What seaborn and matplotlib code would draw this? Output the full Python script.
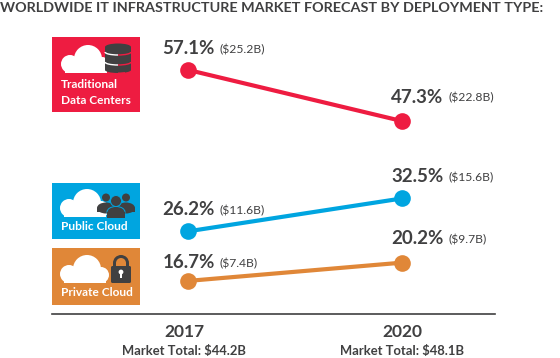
import matplotlib
matplotlib.use('Agg')
import pandas as pd
import seaborn as sns
import matplotlib.pyplot as plt
from matplotlib.patches import Rectangle, Ellipse, Circle, FancyBboxPatch, Wedge, Arc
from matplotlib.transforms import Affine2D

years = [2017, 2020]
trad_share = [57.1, 47.3]
public_share = [26.2, 32.5]
private_share = [16.7, 20.2]
trad_money = ['($25.2B)', '($22.8B)']
public_money = ['($11.6B)', '($15.6B)']
private_money = ['($7.4B)', '($9.7B)']
totals = ['Market Total: $44.2B', 'Market Total: $48.1B']
title = 'WORLDWIDE IT INFRASTRUCTURE MARKET FORECAST BY DEPLOYMENT TYPE:'

RED = '#ee1c41'
BLUE = '#00a5e0'
ORANGE = '#e08738'
DARK = '#404041'

sns.set_theme(style='white')
plt.rcParams['font.family'] = ['Lato', 'DejaVu Sans']

df = pd.DataFrame({
    'year': years * 3,
    'share': trad_share + public_share + private_share,
    'kind': ['Traditional'] * 2 + ['Public'] * 2 + ['Private'] * 2,
})

W, H = 560, 358
fig = plt.figure(figsize=(W / 100, H / 100), dpi=100)
ax = fig.add_axes([52 / W, (H - 314) / H, 443 / W, 314 / H])
sns.lineplot(data=df, x='year', y='share', hue='kind', ax=ax, legend=False,
             palette={'Traditional': RED, 'Public': BLUE, 'Private': ORANGE},
             linewidth=3, marker='o', markersize=12, markeredgewidth=0)
ax.set_xlim(2015.09, 2021.30)
ax.set_ylim(10.36, 70.5)
ax.set_xlabel('')
ax.set_ylabel('')
ax.set_yticks([])
ax.set_xticks(years)
ax.set_xticklabels([str(y) for y in years], fontsize=12.5, fontweight='bold', color=DARK)
ax.tick_params(axis='x', length=0, pad=7)
# 2017 text sits a little left of its marker in the original
first = ax.get_xticklabels()[0]
first.set_transform(first.get_transform() + Affine2D().translate(-4, 0))
sns.despine(ax=ax, left=True)
ax.spines['bottom'].set_color(DARK)
ax.spines['bottom'].set_linewidth(1.2)
ax.patch.set_alpha(0)

# overlay in pixel coords for the badges and headline
ov = fig.add_axes([0, 0, 1, 1], zorder=-1)
ov.set_xlim(0, W)
ov.set_ylim(H, 0)
ov.axis('off')
ov2 = fig.add_axes([0, 0, 1, 1], zorder=5)
ov2.set_xlim(0, W)
ov2.set_ylim(H, 0)
ov2.axis('off')
ov2.patch.set_alpha(0)

ov.text(0, 7.5, title, fontsize=10.35, fontweight='bold', color=DARK, va='center', ha='left')


def cloud(x, y):
    # x, y = bottom left of the cloud
    ov2.add_patch(Circle((x + 9, y - 9), 9, fc='white', ec='none'))
    ov2.add_patch(Circle((x + 27, y - 14), 14, fc='white', ec='none'))
    ov2.add_patch(Circle((x + 41, y - 8), 8, fc='white', ec='none'))
    ov2.add_patch(Rectangle((x + 4, y - 8), 42, 8, fc='white', ec='none'))


def database(x, y):
    ov2.add_patch(Rectangle((x, y + 3), 26, 23, fc=DARK, ec='none'))
    ov2.add_patch(Ellipse((x + 13, y + 3), 26, 7, fc=DARK, ec='none'))
    ov2.add_patch(Ellipse((x + 13, y + 26), 26, 6, fc=DARK, ec='none'))
    for top, col in [(8, RED), (18, 'white')]:
        ov2.add_patch(Arc((x + 13, y + top), 26, 6, theta1=0, theta2=90, ec=RED, lw=1))
        ov2.add_patch(Arc((x + 13, y + top), 26, 6, theta1=90, theta2=180, ec='white', lw=1))
    ov2.add_patch(Arc((x + 13, y + 28 - 2), 26, 6, theta1=20, theta2=90, ec=RED, lw=0.7))


def people(cx, y):
    for dx in [-10, 10]:
        ov2.add_patch(Circle((cx + dx, y + 3.5), 4, fc=DARK, ec='none'))
        ov2.add_patch(Ellipse((cx + dx, y + 14), 18, 11, fc=DARK, ec='none'))
        ov2.add_patch(Rectangle((cx + dx - 9, y + 14), 18, 4, fc=DARK, ec='none'))
    ov2.add_patch(Circle((cx, y + 7), 5.5, fc=DARK, ec=BLUE, lw=0.7))
    ov2.add_patch(Ellipse((cx, y + 18), 18, 11, fc=DARK, ec=BLUE, lw=0.7))
    ov2.add_patch(Rectangle((cx - 9, y + 18), 18, 6, fc=DARK, ec='none'))


def lock(x, y):
    ov2.add_patch(Wedge((x + 10, y + 8), 8, 180, 360, width=3, fc=DARK, ec='none'))
    ov2.add_patch(Rectangle((x + 2, y + 8), 3, 5, fc=DARK, ec='none'))
    ov2.add_patch(Rectangle((x + 15, y + 8), 3, 5, fc=DARK, ec='none'))
    ov2.add_patch(FancyBboxPatch((x, y + 11), 20, 17, boxstyle='round,pad=0,rounding_size=1.5', fc=DARK, ec='none'))
    ov2.add_patch(Circle((x + 10, y + 17), 2.4, fc='white', ec='none'))
    ov2.add_patch(Rectangle((x + 9, y + 17), 2, 6, fc='white', ec='none'))


ov.add_patch(Rectangle((52, 37), 88, 75, fc=RED, ec='none'))
ov.add_patch(Rectangle((52, 183), 88, 56, fc=BLUE, ec='none'))
ov.add_patch(Rectangle((52, 248), 88, 57, fc=ORANGE, ec='none'))

cloud(61, 73)
database(105, 44)
cloud(60, 217)
people(116, 194)
cloud(60, 283)
lock(111, 255)

lbl = dict(color='white', fontsize=8.6, fontweight='bold', ha='left', va='center')
ov2.text(61, 85, 'Traditional', **lbl)
ov2.text(61, 100, 'Data Centers', **lbl)
ov2.text(61, 226, 'Public Cloud', **lbl)
ov2.text(61, 292, 'Private Cloud', **lbl)

# percent + money labels, offset from each marker in pixels (converted to points)
renderer = fig.canvas.get_renderer()
groups = [
    (trad_share, trad_money, [(-26, 21), (-11, 24)]),
    (public_share, public_money, [(-26, 22), (-11, 22)]),
    (private_share, private_money, [(-26, 18), (-11, 24)]),
]
for shares, money, offs in groups:
    for yr, s, m, (dx, dy) in zip(years, shares, money, offs):
        t = ax.annotate('%.1f%%' % s, xy=(yr, s), xytext=(dx * 0.72, dy * 0.72), textcoords='offset points',
                        fontsize=13.5, fontweight='bold', color=DARK, ha='left', va='center')
        box = t.get_window_extent(renderer)
        ax.annotate(m, xy=(box.x1 + 5, box.y0 + box.height / 2 - 1), xycoords='figure pixels',
                    fontsize=8.7, color=DARK, ha='left', va='center')

for yr, tot in zip(years, totals):
    shift = -3 if yr == 2017 else 0
    ax.annotate(tot, xy=(yr, 0), xycoords=('data', 'axes fraction'), xytext=(shift, -27), textcoords='offset points',
                fontsize=9.4, fontweight='bold', color=DARK, ha='center', va='center')

fig.savefig('out.png', dpi=100)
